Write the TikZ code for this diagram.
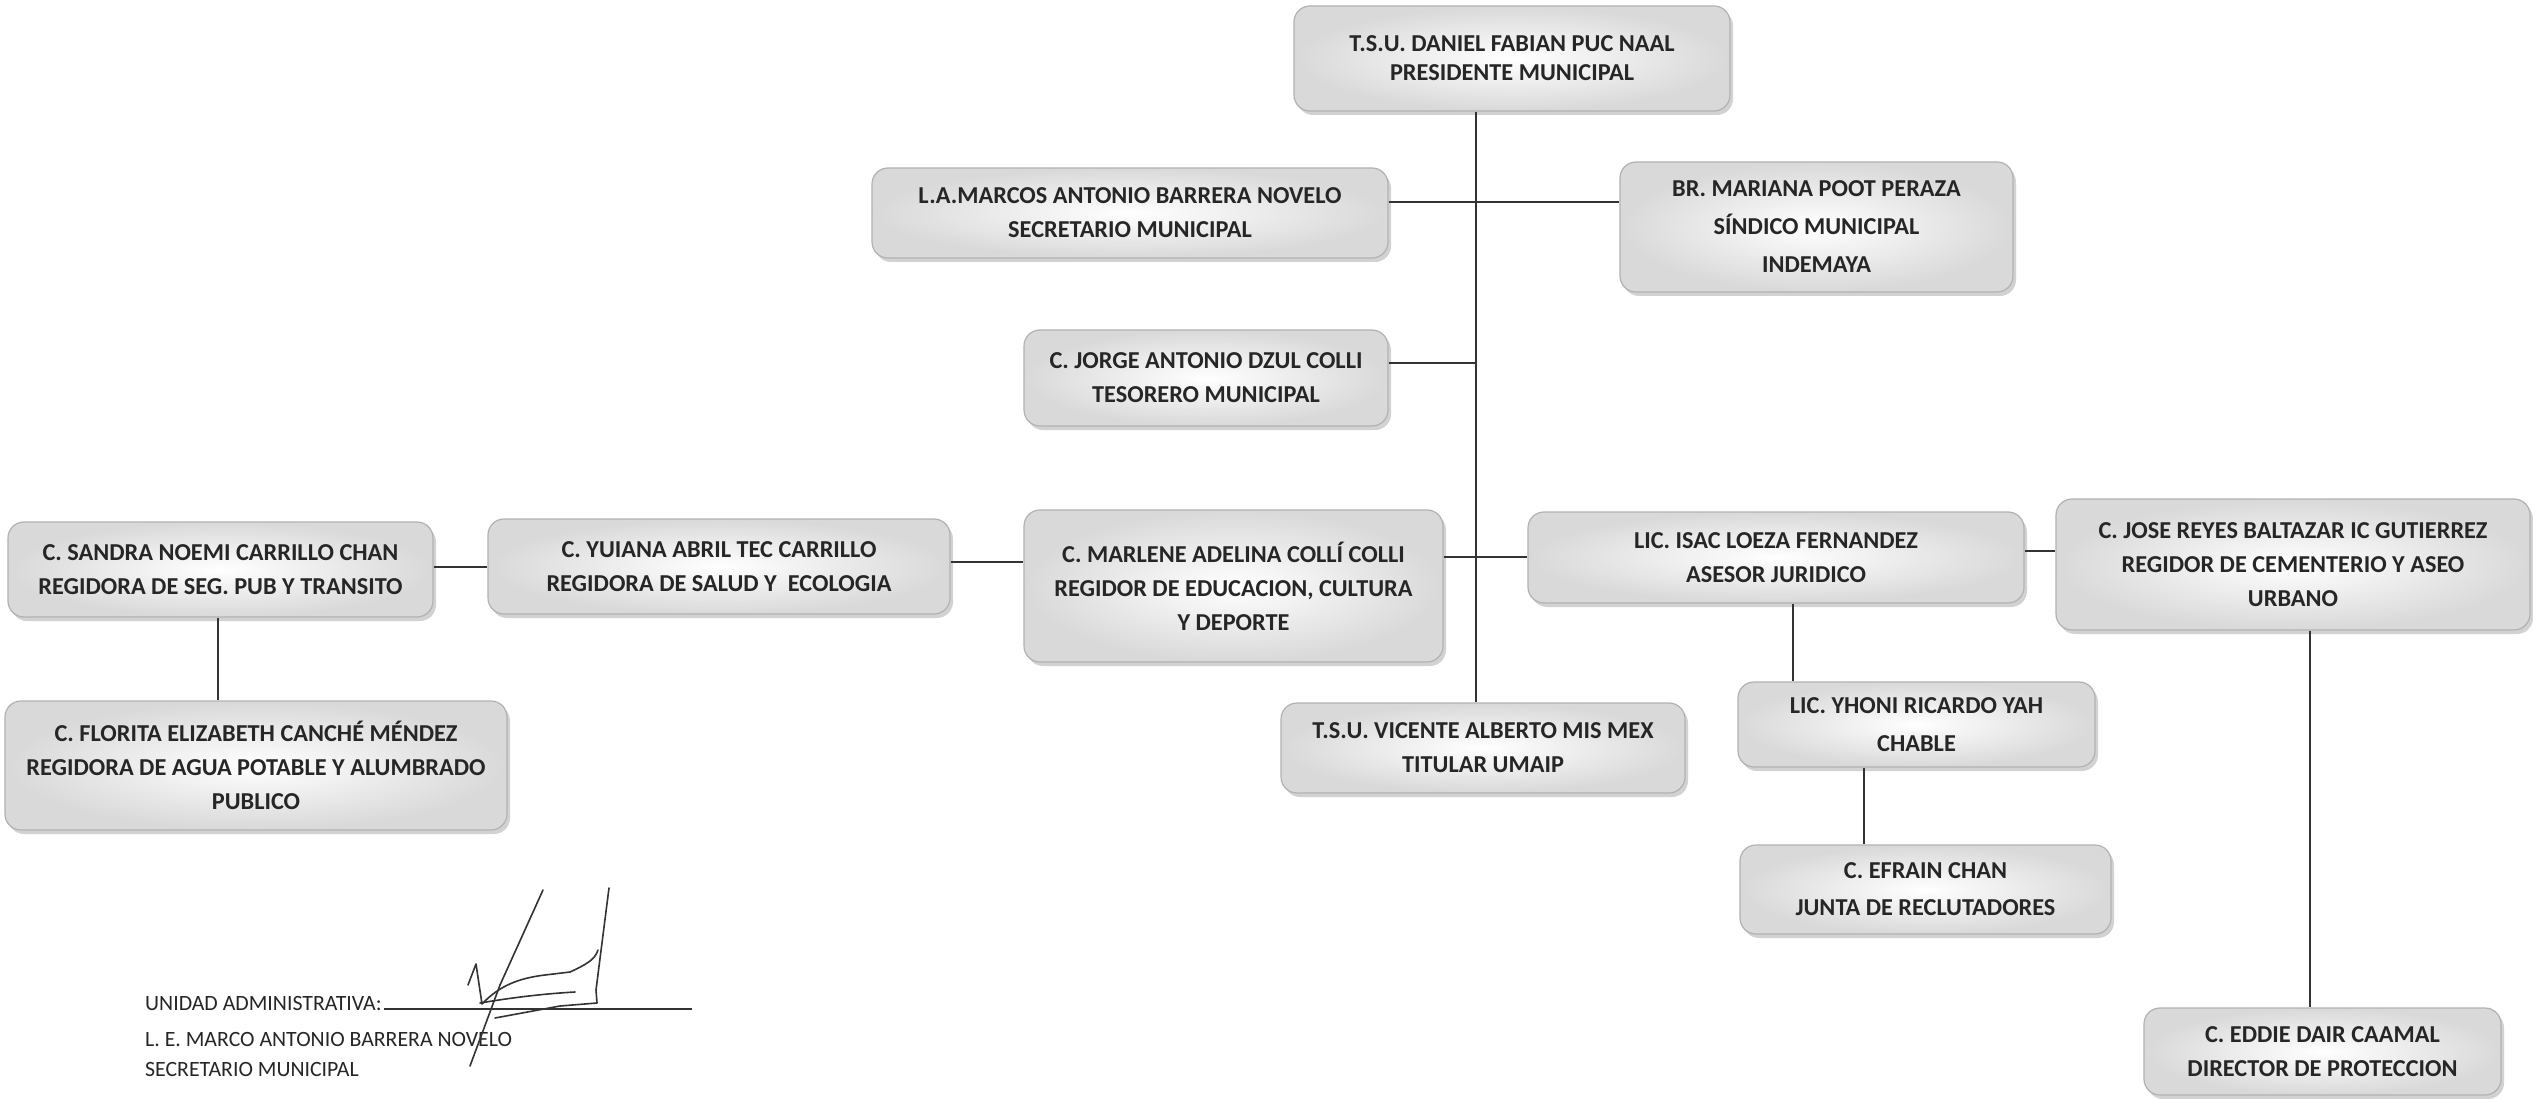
\documentclass[tikz,border=0pt]{standalone}
\usepackage{fontspec}
\setmainfont{Carlito}
\usetikzlibrary{shadows,calc}
\begin{document}
\begin{tikzpicture}[x=1pt,y=-1pt,
  orgbox/.style={draw=gray!60, line width=1.2pt, rounded corners=16pt,
    inner color=white, outer color=gray!30, align=center, inner sep=0pt,
    font=\bfseries\fontsize{24.3}{34}\selectfont, text=black!85,
    drop shadow={shadow xshift=3pt, shadow yshift=-4pt, opacity=0.35, fill=gray}},
  link/.style={line width=2pt, draw=black!80},
  sigtext/.style={font=\fontsize{21.8}{24}\selectfont, anchor=base west, inner sep=0pt, text=black!85},
  sigpen/.style={line width=1.6pt, draw=black!80, line cap=round, line join=round}]
\useasboundingbox (0,0) rectangle (2533,1099);
\fill[white] (0,0) rectangle (2533,1099);

% boxes
\node[orgbox, minimum width=436pt, minimum height=105pt, font=\bfseries\fontsize{24.3}{29}\selectfont] (pres) at (1512,58.5) {T.S.U. DANIEL FABIAN PUC NAAL\\PRESIDENTE MUNICIPAL};
\node[orgbox, minimum width=516pt, minimum height=90pt] (sec) at (1130,213) {L.A.MARCOS ANTONIO BARRERA NOVELO\\SECRETARIO MUNICIPAL};
\node[orgbox, minimum width=393pt, minimum height=130pt, font=\bfseries\fontsize{24.3}{38}\selectfont] (sind) at (1816.5,227) {BR. MARIANA POOT PERAZA\\SÍNDICO MUNICIPAL\\INDEMAYA};
\node[orgbox, minimum width=364pt, minimum height=96pt] (tes) at (1206,378) {C. JORGE ANTONIO DZUL COLLI\\TESORERO MUNICIPAL};
\node[orgbox, minimum width=425pt, minimum height=95pt] (sandra) at (220.5,569.5) {C. SANDRA NOEMI CARRILLO CHAN\\REGIDORA DE SEG. PUB Y TRANSITO};
\node[orgbox, minimum width=462pt, minimum height=95pt] (yuiana) at (719,566.5) {C. YUIANA ABRIL TEC CARRILLO\\REGIDORA DE SALUD Y\ \ ECOLOGIA};
\node[orgbox, minimum width=419pt, minimum height=152pt] (marlene) at (1233.5,586) {C. MARLENE ADELINA COLLÍ COLLI\\REGIDOR DE EDUCACION, CULTURA\\Y DEPORTE};
\node[orgbox, minimum width=496pt, minimum height=91pt] (isac) at (1776,557.5) {LIC. ISAC LOEZA FERNANDEZ\\ASESOR JURIDICO};
\node[orgbox, minimum width=474pt, minimum height=131pt] (jose) at (2293,564.5) {C. JOSE REYES BALTAZAR IC GUTIERREZ\\REGIDOR DE CEMENTERIO Y ASEO\\URBANO};
\node[orgbox, minimum width=502pt, minimum height=129pt] (florita) at (256,765.5) {C. FLORITA ELIZABETH CANCHÉ MÉNDEZ\\REGIDORA DE AGUA POTABLE Y ALUMBRADO\\PUBLICO};
\node[orgbox, minimum width=404pt, minimum height=90pt] (vicente) at (1483,748) {T.S.U. VICENTE ALBERTO MIS MEX\\TITULAR UMAIP};
\node[orgbox, minimum width=357pt, minimum height=85pt, font=\bfseries\fontsize{24.3}{38}\selectfont] (yhoni) at (1916.5,724.5) {LIC. YHONI RICARDO YAH\\CHABLE};
\node[orgbox, minimum width=371pt, minimum height=89pt, font=\bfseries\fontsize{24.3}{37}\selectfont] (efrain) at (1925.5,889.5) {C. EFRAIN CHAN\\JUNTA DE RECLUTADORES};
\node[orgbox, minimum width=357pt, minimum height=87pt] (eddie) at (2322.5,1051.5) {C. EDDIE DAIR CAAMAL\\DIRECTOR DE PROTECCION};

% helper coordinates
\coordinate (tx) at (1476,0);
\coordinate (ysec) at (0,202);
\coordinate (ytes) at (0,363);
\coordinate (ysy) at (0,567);
\coordinate (yym) at (0,562);
\coordinate (ymi) at (0,557);
\coordinate (yij) at (0,551);
\coordinate (xsf) at (218,0);
\coordinate (xiy) at (1793,0);
\coordinate (xye) at (1864,0);
\coordinate (xje) at (2310,0);

% connectors
\draw[link] (tx |- pres.south) -- (tx |- vicente.north);
\draw[link] (sec.east |- ysec) -- (sind.west |- ysec);
\draw[link] (tes.east |- ytes) -- (tx |- ytes);
\draw[link] (sandra.east |- ysy) -- (yuiana.west |- ysy);
\draw[link] (yuiana.east |- yym) -- (marlene.west |- yym);
\draw[link] (marlene.east |- ymi) -- (isac.west |- ymi);
\draw[link] (isac.east |- yij) -- (jose.west |- yij);
\draw[link] (xsf |- sandra.south) -- (xsf |- florita.north);
\draw[link] (xiy |- isac.south) -- (xiy |- yhoni.north);
\draw[link] (xye |- yhoni.south) -- (xye |- efrain.north);
\draw[link] (xje |- jose.south) -- (xje |- eddie.north);

% signature block
\node[sigtext] (s1) at (145,1010) {UNIDAD ADMINISTRATIVA:};
\node[sigtext] (s2) at (145,1046) {L. E. MARCO ANTONIO BARRERA NOVELO};
\node[sigtext] (s3) at (145,1076) {SECRETARIO MUNICIPAL};
\coordinate (ulend) at (692,1011);
\draw[line width=1.4pt, draw=black!80] (s1.base east) ++(2pt,1pt) coordinate (ulstart) -- (ulend |- ulstart);
\draw[sigpen] (543,890) -- (500,985) -- (470,1066);
\draw[sigpen] (468,985) -- (476,964) -- (482,1004) .. controls (500,985) and (520,978) .. (545,975) -- (570,972) .. controls (585,965) and (595,960) .. (598,950);
\draw[sigpen] (609,888) -- (596,990) -- (597,1003) -- (560,1006) -- (495,1018);
\draw[sigpen] (480,1003) .. controls (510,998) and (540,994) .. (575,992);
\end{tikzpicture}
\end{document}
